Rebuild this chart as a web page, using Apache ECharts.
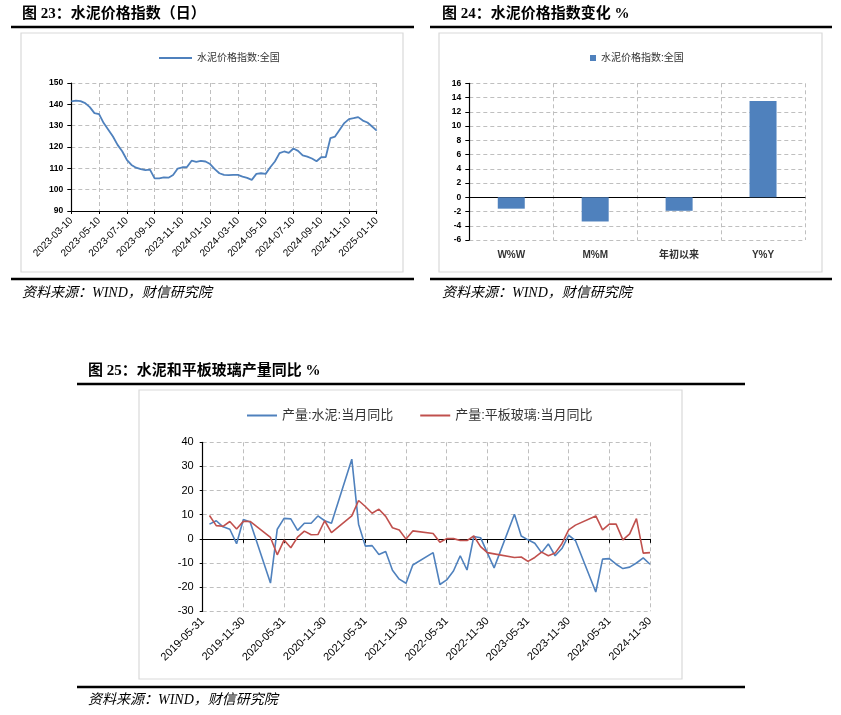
<!DOCTYPE html>
<html>
<head>
<meta charset="utf-8">
<script src="https://cdn.jsdelivr.net/npm/echarts@6/dist/echarts.min.js"></script>
<style>
html, body { margin: 0; padding: 0; background: #fff; }
#main { width: 841px; height: 715px; }
</style>
</head>
<body>
<div id="main"></div>
<script>
// 图23 水泥价格指数(日), sampled on the 10th / 20th / month end
var priceDates = [
	'2023-03-10', '2023-03-20', '2023-03-31', '2023-04-10', '2023-04-20', '2023-04-30',
	'2023-05-10', '2023-05-20', '2023-05-31', '2023-06-10', '2023-06-20', '2023-06-30',
	'2023-07-10', '2023-07-20', '2023-07-31', '2023-08-10', '2023-08-20', '2023-08-31',
	'2023-09-10', '2023-09-20', '2023-09-30', '2023-10-10', '2023-10-20', '2023-10-31',
	'2023-11-10', '2023-11-20', '2023-11-30', '2023-12-10', '2023-12-20', '2023-12-31',
	'2024-01-10', '2024-01-20', '2024-01-31', '2024-02-10', '2024-02-20', '2024-02-29',
	'2024-03-10', '2024-03-20', '2024-03-31', '2024-04-10', '2024-04-20', '2024-04-30',
	'2024-05-10', '2024-05-20', '2024-05-31', '2024-06-10', '2024-06-20', '2024-06-30',
	'2024-07-10', '2024-07-20', '2024-07-31', '2024-08-10', '2024-08-20', '2024-08-31',
	'2024-09-10', '2024-09-20', '2024-09-30', '2024-10-10', '2024-10-20', '2024-10-31',
	'2024-11-10', '2024-11-20', '2024-11-30', '2024-12-10', '2024-12-20', '2024-12-31',
	'2025-01-10'
];
var priceIndex = [
	141.4, 141.7, 141.5, 140.6, 138.7, 135.9,
	135.4, 131.2, 128.1, 124.9, 121.0, 118.0,
	114.0, 111.6, 110.3, 109.6, 109.2, 109.4,
	105.3, 105.3, 105.8, 105.6, 106.9, 109.9,
	110.5, 110.6, 113.6, 113.0, 113.5, 113.2,
	112.0, 109.6, 107.7, 106.9, 106.8, 106.9,
	106.9, 106.1, 105.5, 104.6, 107.4, 107.7,
	107.4, 110.5, 113.2, 117.1, 117.9, 117.2,
	119.3, 118.2, 116.1, 115.5, 114.6, 113.3,
	115.2, 115.3, 124.2, 124.9, 128.1, 131.2,
	133.1, 133.5, 134.0, 132.4, 131.5, 129.6,
	127.7
];

// 图24 水泥价格指数变化 %
var changeCats = ['W%W', 'M%M', '年初以来', 'Y%Y'];
var changeVals = [-1.6, -3.4, -1.9, 13.5];

// 图25 产量当月同比 %
var months = [
	'2019-05-31', '2019-06-30', '2019-07-31', '2019-08-31', '2019-09-30', '2019-10-31',
	'2019-11-30', '2019-12-31', '2020-01-31', '2020-02-29', '2020-03-31', '2020-04-30',
	'2020-05-31', '2020-06-30', '2020-07-31', '2020-08-31', '2020-09-30', '2020-10-31',
	'2020-11-30', '2020-12-31', '2021-01-31', '2021-02-28', '2021-03-31', '2021-04-30',
	'2021-05-31', '2021-06-30', '2021-07-31', '2021-08-31', '2021-09-30', '2021-10-31',
	'2021-11-30', '2021-12-31', '2022-01-31', '2022-02-28', '2022-03-31', '2022-04-30',
	'2022-05-31', '2022-06-30', '2022-07-31', '2022-08-31', '2022-09-30', '2022-10-31',
	'2022-11-30', '2022-12-31', '2023-01-31', '2023-02-28', '2023-03-31', '2023-04-30',
	'2023-05-31', '2023-06-30', '2023-07-31', '2023-08-31', '2023-09-30', '2023-10-31',
	'2023-11-30', '2023-12-31', '2024-01-31', '2024-02-29', '2024-03-31', '2024-04-30',
	'2024-05-31', '2024-06-30', '2024-07-31', '2024-08-31', '2024-09-30', '2024-10-31',
	'2024-11-30'
];
var cementYoy = [
	null, 6.1, 7.5, 5.0, 4.0, -2.0,
	8.0, 7.0, null, null, -18.3, 4.0,
	8.5, 8.3, 3.5, 6.5, 6.5, 9.5,
	7.5, 6.5, null, null, 33.0, 6.1,
	-3.0, -2.8, -6.5, -5.2, -13.0, -16.7,
	-18.4, -10.8, null, null, -5.7, -18.9,
	-17.0, -13.3, -7.0, -12.9, 1.0, 0.5,
	-5.8, -12.0, null, null, 10.2, 1.2,
	-0.4, -1.8, -5.7, -2.1, -7.0, -4.0,
	1.5, -0.7, null, null, -22.0, -8.4,
	-8.2, -10.5, -12.3, -11.7, -10.0, -7.9,
	-10.5
];
var glassYoy = [
	null, 9.7, 5.5, 5.2, 7.2, 4.1,
	7.3, 7.2, null, null, 0.6, -6.6,
	-0.5, -3.7, 0.7, 3.2, 1.7, 1.8,
	7.5, 2.6, null, null, 9.5, 15.9,
	13.4, 10.6, 12.3, 9.3, 4.6, 3.7,
	-0.1, 3.3, null, null, 2.2, -1.4,
	0.1, 0.1, -0.7, -0.7, 1.2, -3.2,
	-5.7, -6.2, null, null, -7.7, -7.5,
	-9.3, -7.7, -5.5, -7.0, -5.9, -2.0,
	3.7, 5.7, null, null, 9.5, 3.7,
	6.1, 6.1, -0.4, 2.1, 8.4, -5.9,
	-5.7
];

var blue = '#4F81BD';
var red = '#C0504D';
var gridGrey = '#BFBFBF';
var sansFont = "'Liberation Sans', 'Noto Sans CJK SC', sans-serif";
var titleFont = "'Liberation Serif', 'Noto Sans CJK SC', serif";

var dom = document.getElementById('main');
var myChart = echarts.init(dom, null, { renderer: 'canvas' });

function dashed() {
	return { show: true, lineStyle: { color: gridGrey, type: [4, 3], width: 1 } };
}

function rule(x1, x2, y) {
	return {
		type: 'line', silent: true,
		shape: { x1: x1, y1: y, x2: x2, y2: y },
		style: { stroke: '#000', lineWidth: 2.5 }
	};
}

function box(x, y, w, h) {
	return {
		type: 'rect', silent: true,
		shape: { x: x, y: y, width: w, height: h },
		style: { fill: 'none', stroke: '#D9D9D9', lineWidth: 1.2 }
	};
}

function heading(x, y, txt) {
	return {
		type: 'text', silent: true, x: x, y: y,
		style: {
			text: txt, fill: '#000', font: 'bold 15px ' + titleFont,
			textVerticalAlign: 'middle'
		}
	};
}

function source(x, y) {
	return {
		type: 'text', silent: true, x: x, y: y,
		style: {
			text: '资料来源：WIND，财信研究院', fill: '#000',
			font: 'italic 14px ' + titleFont, textVerticalAlign: 'middle'
		}
	};
}

var option = {
	animation: false,
	backgroundColor: '#fff',
	textStyle: { fontFamily: sansFont },
	graphic: [
		heading(22, 14, '图 23：水泥价格指数（日）'),
		heading(442, 14, '图 24：水泥价格指数变化 %'),
		rule(11, 414, 27), rule(430, 832, 27),
		box(21, 33, 382, 239), box(439, 33, 383, 239),
		rule(11, 414, 279), rule(430, 832, 279),
		source(22, 293), source(442, 293),
		heading(88, 371, '图 25：水泥和平板玻璃产量同比 %'),
		rule(77, 745, 384),
		box(139, 390, 543, 289),
		rule(77, 745, 687),
		source(88, 700)
	],
	legend: [{
		data: ['水泥价格指数:全国'],
		left: 154, top: 48,
		icon: 'rect', itemWidth: 33, itemHeight: 2,
		textStyle: { fontSize: 10, color: '#333' }
	}, {
		data: ['变化'],
		left: 585, top: 48,
		icon: 'rect', itemWidth: 6, itemHeight: 6,
		formatter: function () { return '水泥价格指数:全国'; },
		textStyle: { fontSize: 10, color: '#333' }
	}, {
		data: ['产量:水泥:当月同比', '产量:平板玻璃:当月同比'],
		left: 242, top: 404,
		icon: 'rect', itemWidth: 30, itemHeight: 2, itemGap: 27,
		textStyle: { fontSize: 13, color: '#333' }
	}],
	grid: [
		{ left: 71.3, top: 83, width: 305.4, height: 128 },
		{ left: 469.3, top: 83.3, width: 335.7, height: 156.7 },
		{ left: 202.7, top: 442.3, width: 447.3, height: 169 }
	],
	xAxis: [{
		gridIndex: 0, type: 'category', boundaryGap: false, data: priceDates,
		axisLine: { lineStyle: { color: '#000', width: 1.2 } },
		axisTick: { interval: 5, length: 3, lineStyle: { color: '#000' } },
		axisLabel: { interval: 5, rotate: 45, fontSize: 10, color: '#000', margin: 8 },
		splitLine: { show: true, interval: 5, lineStyle: { color: gridGrey, type: [4, 3] } }
	}, {
		gridIndex: 1, type: 'category', data: changeCats, position: 'bottom',
		axisLine: { show: false, onZero: false },
		axisTick: { show: false },
		axisLabel: { fontSize: 10, color: '#333', margin: 10, fontWeight: 'bold' },
		splitLine: dashed()
	}, {
		gridIndex: 1, type: 'category', data: changeCats, position: 'top',
		axisLine: { show: true, onZero: true, lineStyle: { color: '#000', width: 1.2 } },
		axisTick: { show: false },
		axisLabel: { show: false },
		splitLine: { show: false }
	}, {
		gridIndex: 2, type: 'category', boundaryGap: false, data: months, position: 'bottom',
		axisLine: { show: false, onZero: false },
		axisTick: { show: false },
		axisLabel: { interval: 5, rotate: 45, fontSize: 11, color: '#000', margin: 8 },
		splitLine: { show: true, interval: 5, lineStyle: { color: gridGrey, type: [4, 3] } }
	}, {
		gridIndex: 2, type: 'category', boundaryGap: false, data: months, position: 'top',
		axisLine: { show: true, onZero: true, lineStyle: { color: '#000', width: 1.2 } },
		axisTick: { show: true, inside: true, interval: 5, length: 4, lineStyle: { color: '#000' } },
		axisLabel: { show: false },
		splitLine: { show: false }
	}],
	yAxis: [{
		gridIndex: 0, type: 'value', min: 90, max: 150, interval: 10,
		axisLine: { show: true, lineStyle: { color: '#000', width: 1.2 } },
		axisTick: { show: true, length: 4, lineStyle: { color: '#000' } },
		axisLabel: { fontSize: 8.5, fontWeight: 'bold', color: '#000', margin: 8 },
		splitLine: dashed()
	}, {
		gridIndex: 1, type: 'value', min: -6, max: 16, interval: 2,
		axisLine: { show: true, lineStyle: { color: '#000', width: 1.2 } },
		axisTick: { show: true, length: 4, lineStyle: { color: '#000' } },
		axisLabel: { fontSize: 8.5, fontWeight: 'bold', color: '#000', margin: 8 },
		splitLine: dashed()
	}, {
		gridIndex: 2, type: 'value', min: -30, max: 40, interval: 10,
		axisLine: { show: true, lineStyle: { color: '#000', width: 1.2 } },
		axisTick: { show: true, length: 3, lineStyle: { color: '#000' } },
		axisLabel: { fontSize: 11, color: '#000', margin: 9 },
		splitLine: dashed()
	}],
	series: [{
		name: '水泥价格指数:全国',
		type: 'line', xAxisIndex: 0, yAxisIndex: 0,
		data: priceIndex, symbol: 'none',
		itemStyle: { color: blue },
		lineStyle: { color: blue, width: 1.8 }
	}, {
		name: '变化',
		type: 'bar', xAxisIndex: 1, yAxisIndex: 1,
		data: changeVals, barWidth: 27,
		itemStyle: { color: blue }
	}, {
		name: '产量:水泥:当月同比',
		type: 'line', xAxisIndex: 3, yAxisIndex: 2,
		data: cementYoy, connectNulls: true, symbol: 'none',
		itemStyle: { color: blue },
		lineStyle: { color: blue, width: 1.6 }
	}, {
		name: '产量:平板玻璃:当月同比',
		type: 'line', xAxisIndex: 3, yAxisIndex: 2,
		data: glassYoy, connectNulls: true, symbol: 'none',
		itemStyle: { color: red },
		lineStyle: { color: red, width: 1.6 }
	}]
};

myChart.setOption(option);
</script>
</body>
</html>
